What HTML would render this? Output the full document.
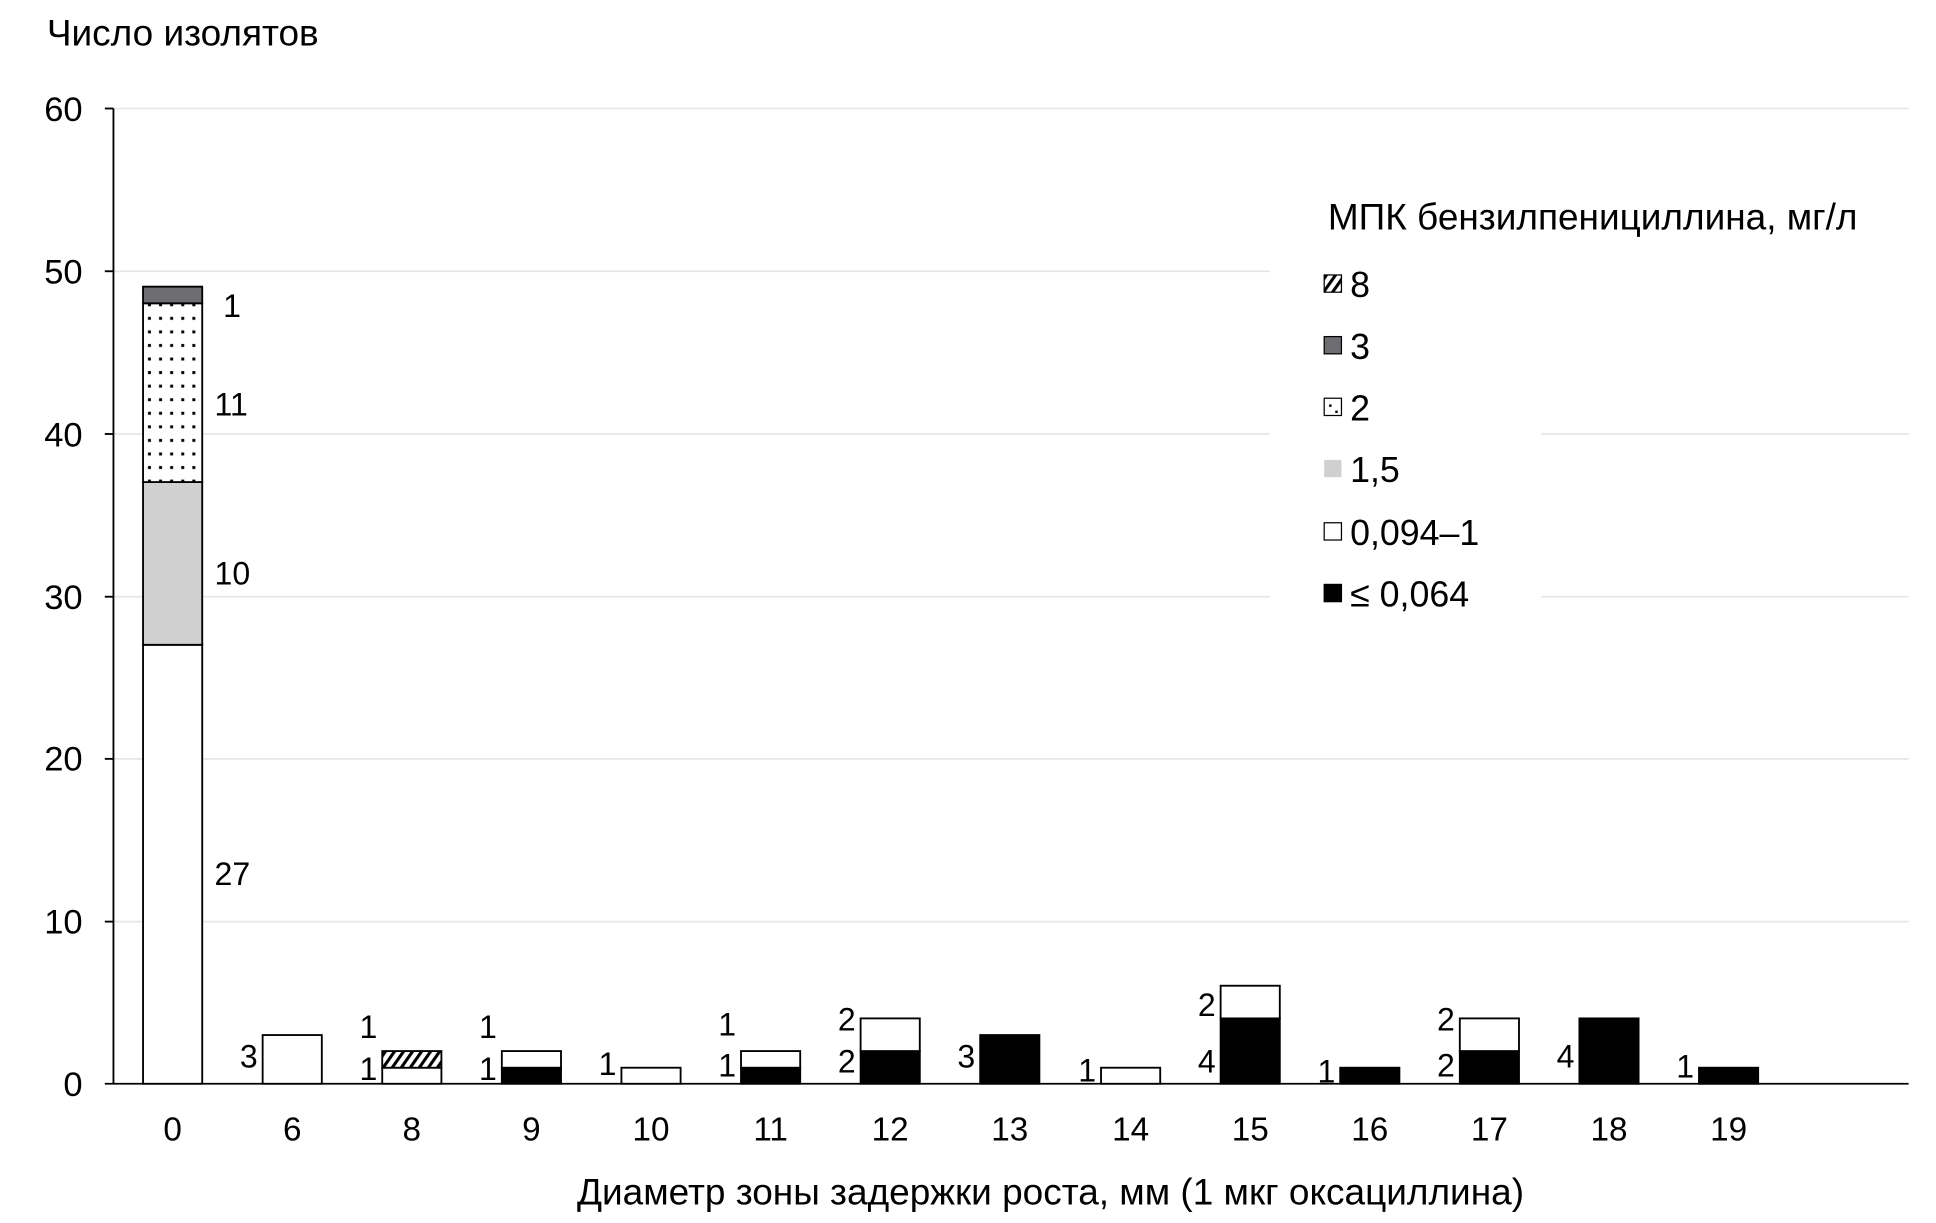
<!DOCTYPE html>
<html><head><meta charset="utf-8"><style>html,body{margin:0;padding:0;background:#fff}svg{display:block}</style></head>
<body>
<svg width="1936" height="1223" viewBox="0 0 1560 985.5" xmlns="http://www.w3.org/2000/svg" font-family="Liberation Sans, Arial, sans-serif">
<defs>
<pattern id="dots" width="9" height="11" patternUnits="userSpaceOnUse"><rect width="9" height="11" fill="#fff"/><rect x="3" y="4" width="2.4" height="2.4" fill="#000"/></pattern>
<pattern id="hatch" width="6" height="6" patternUnits="userSpaceOnUse" patternTransform="rotate(35)"><rect width="6" height="6" fill="#fff"/><rect width="2.5" height="6" fill="#000"/></pattern>
</defs>
<rect width="1560" height="985.5" fill="#fff"/>
<g transform="scale(0.9935)">
<text x="38" y="37" font-size="30">Число изолятов</text>
<g stroke="#e6e6e6" stroke-width="1.5">
<line x1="92" y1="88" x2="1548" y2="88"/>
<line x1="92" y1="220" x2="1030" y2="220"/>
<line x1="92" y1="352" x2="1030" y2="352"/><line x1="1250" y1="352" x2="1548" y2="352"/>
<line x1="92" y1="484" x2="1030" y2="484"/><line x1="1250" y1="484" x2="1548" y2="484"/>
<line x1="92" y1="615.5" x2="1548" y2="615.5"/>
<line x1="92" y1="747.5" x2="1548" y2="747.5"/>
</g>
<g stroke="#000" stroke-width="1.5">
<line x1="92" y1="88" x2="92" y2="879"/>
<line x1="85" y1="88" x2="92" y2="88"/><line x1="85" y1="220" x2="92" y2="220"/><line x1="85" y1="352" x2="92" y2="352"/><line x1="85" y1="484" x2="92" y2="484"/><line x1="85" y1="615.5" x2="92" y2="615.5"/><line x1="85" y1="747.5" x2="92" y2="747.5"/>
<line x1="85" y1="879" x2="1548" y2="879"/>
</g>
<g font-size="28" text-anchor="end">
<text x="67" y="98">60</text><text x="67" y="230">50</text><text x="67" y="362">40</text><text x="67" y="494">30</text><text x="67" y="625">20</text><text x="67" y="757">10</text><text x="67" y="889">0</text>
</g>
<g stroke="#000" stroke-width="1.5">
<rect x="116" y="523" width="48" height="356" fill="#fff"/>
<rect x="116" y="391" width="48" height="132" fill="#d0d0d0"/>
<rect x="116" y="246" width="48" height="145" fill="url(#dots)"/>
<rect x="116" y="232.5" width="48" height="13.5" fill="#6e6e72"/>
<rect x="213" y="839.5" width="48" height="39.5" fill="#fff"/>
<rect x="310" y="866" width="48" height="13" fill="#fff"/>
<rect x="310" y="852.5" width="48" height="13.5" fill="url(#hatch)"/>
<rect x="407" y="866" width="48" height="13" fill="#000"/>
<rect x="407" y="852.5" width="48" height="13.5" fill="#fff"/>
<rect x="504" y="866" width="48" height="13" fill="#fff"/>
<rect x="601" y="866" width="48" height="13" fill="#000"/>
<rect x="601" y="852.5" width="48" height="13.5" fill="#fff"/>
<rect x="698" y="852.5" width="48" height="26.5" fill="#000"/>
<rect x="698" y="826" width="48" height="26.5" fill="#fff"/>
<rect x="795" y="839.5" width="48" height="39.5" fill="#000"/>
<rect x="893" y="866" width="48" height="13" fill="#fff"/>
<rect x="990" y="826" width="48" height="53" fill="#000"/>
<rect x="990" y="799.5" width="48" height="26.5" fill="#fff"/>
<rect x="1087" y="866" width="48" height="13" fill="#000"/>
<rect x="1184" y="852.5" width="48" height="26.5" fill="#000"/>
<rect x="1184" y="826" width="48" height="26.5" fill="#fff"/>
<rect x="1281" y="826" width="48" height="53" fill="#000"/>
<rect x="1378" y="866" width="48" height="13" fill="#000"/>
</g>
<g font-size="26">
<text x="181" y="257">1</text><text x="174" y="337">11</text><text x="174" y="474">10</text><text x="174" y="718">27</text>
</g>
<g font-size="26" text-anchor="end">
<text x="209" y="866">3</text>
<text x="306" y="842">1</text><text x="306" y="876">1</text>
<text x="403" y="842">1</text><text x="403" y="876">1</text>
<text x="500" y="872">1</text>
<text x="597" y="840">1</text><text x="597" y="873">1</text>
<text x="694" y="836">2</text><text x="694" y="870">2</text>
<text x="791" y="866">3</text>
<text x="889" y="877">1</text>
<text x="986" y="824">2</text><text x="986" y="870">4</text>
<text x="1083" y="878">1</text>
<text x="1180" y="836">2</text><text x="1180" y="873">2</text>
<text x="1277" y="866">4</text>
<text x="1374" y="874">1</text>
</g>
<g font-size="27" text-anchor="middle">
<text x="140" y="925">0</text><text x="237" y="925">6</text><text x="334" y="925">8</text><text x="431" y="925">9</text><text x="528" y="925">10</text><text x="625" y="925">11</text><text x="722" y="925">12</text><text x="819" y="925">13</text><text x="917" y="925">14</text><text x="1014" y="925">15</text><text x="1111" y="925">16</text><text x="1208" y="925">17</text><text x="1305" y="925">18</text><text x="1402" y="925">19</text>
</g>
<text x="852" y="977" font-size="30" text-anchor="middle">Диаметр зоны задержки роста, мм (1 мкг оксациллина)</text>
<text x="1077" y="186" font-size="30">МПК бензилпенициллина, мг/л</text>
<g stroke="#000" stroke-width="1">
<rect x="1074" y="223" width="14" height="14" fill="url(#hatch)"/>
<rect x="1074" y="273" width="14" height="14" fill="#6e6e72"/>
<rect x="1074" y="323" width="14" height="14" fill="#fff"/>
<rect x="1074" y="373" width="14" height="14" fill="#d0d0d0" stroke="none"/>
<rect x="1074" y="424" width="14" height="14" fill="#fff"/>
<rect x="1074" y="474" width="14" height="14" fill="#000"/>
</g>
<rect x="1078" y="328" width="2" height="2" fill="#000"/><rect x="1083" y="333" width="2" height="2" fill="#000"/>
<g font-size="29">
<text x="1095" y="241">8</text><text x="1095" y="291">3</text><text x="1095" y="341">2</text><text x="1095" y="391">1,5</text><text x="1095" y="442">0,094–1</text><text x="1095" y="492">≤ 0,064</text>
</g>
</g>
</svg>
</body></html>
